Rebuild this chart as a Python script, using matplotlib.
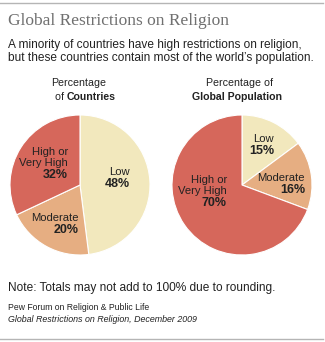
import matplotlib

matplotlib.use("Agg")
import matplotlib.pyplot as plt

# Restriction levels and shares (percent), clockwise from 12 o'clock
levels = ["Low", "Moderate", "High or\nVery High"]
countries_pct = [48, 20, 32]
population_pct = [15, 16, 70]

colors = ["#F2E8BD", "#E6AE82", "#D6675B"]
W, H = 325, 342


def py(y):
    # pixel row (from top) to data y (from bottom)
    return H - y


fig = plt.figure(figsize=(W / 100, H / 100), dpi=100)
ax = fig.add_axes([0, 0, 1, 1])

sans = ["Liberation Sans", "DejaVu Sans"]
gray = "#222222"

ax.plot([0, 323], [py(3), py(3)], color="#b5b5b5", lw=1.0)
ax.plot([0, 323], [py(339), py(339)], color="#b5b5b5", lw=1.0)

ax.text(8, py(21), "Global Restrictions on Religion", family="Liberation Serif",
        fontsize=12.5, color="#707070", va="center", ha="left")
ax.text(8, py(45), "A minority of countries have high restrictions on religion,",
        family=sans, fontsize=8.6, color=gray, va="center")
ax.text(8, py(58), "but these countries contain most of the world\u2019s population.",
        family=sans, fontsize=8.6, color=gray, va="center")

# panel headers
ax.text(79, py(83), "Percentage", family=sans, fontsize=7.7, color=gray, ha="center", va="center")
ax.text(67, py(97), "of ", family=sans, fontsize=7.7, color=gray, ha="right", va="center")
ax.text(67, py(97), "Countries", family=sans, fontsize=7.6, weight="bold", color=gray,
        ha="left", va="center")
ax.text(239, py(83), "Percentage of", family=sans, fontsize=7.7, color=gray, ha="center", va="center")
ax.text(237, py(97), "Global Population", family=sans, fontsize=7.6, weight="bold",
        color=gray, ha="center", va="center")

wedge = dict(edgecolor="white", linewidth=0.8)
ax.pie(countries_pct, colors=colors, startangle=90, counterclock=False,
       center=(80, py(185)), radius=70, wedgeprops=wedge)
ax.pie(population_pct, colors=colors, startangle=90, counterclock=False,
       center=(242, py(185)), radius=70, wedgeprops=wedge)


def label(x, y, name, pct):
    # right-aligned category name with the bold share beneath it
    ax.text(x, py(y), name, family=sans, fontsize=8.1, color=gray, ha="right", va="bottom",
            multialignment="right", linespacing=1.1)
    ax.text(x, py(y) - 1, f"{pct}%", family=sans, fontsize=9, weight="bold", color=gray,
            ha="right", va="top")


label(130, 177, levels[0], countries_pct[0])
label(79, 223, levels[1], countries_pct[1])
label(68, 168, levels[2], countries_pct[2])
label(274, 144, levels[0], population_pct[0])
label(305, 183, levels[1], population_pct[1])
label(227, 196, levels[2], population_pct[2])

ax.text(8, py(288), "Note: Totals may not add to 100% due to rounding.", family=sans,
        fontsize=8.6, color=gray, va="center")
ax.text(8, py(308), "Pew Forum on Religion & Public Life", family=sans, fontsize=6.2,
        color=gray, va="center")
ax.text(8, py(320), "Global Restrictions on Religion, December 2009", family=sans,
        fontsize=6.4, style="italic", color=gray, va="center")

ax.set_xlim(0, W)
ax.set_ylim(0, H)
ax.set_aspect("auto")
ax.axis("off")

fig.savefig("out.png", dpi=100)
